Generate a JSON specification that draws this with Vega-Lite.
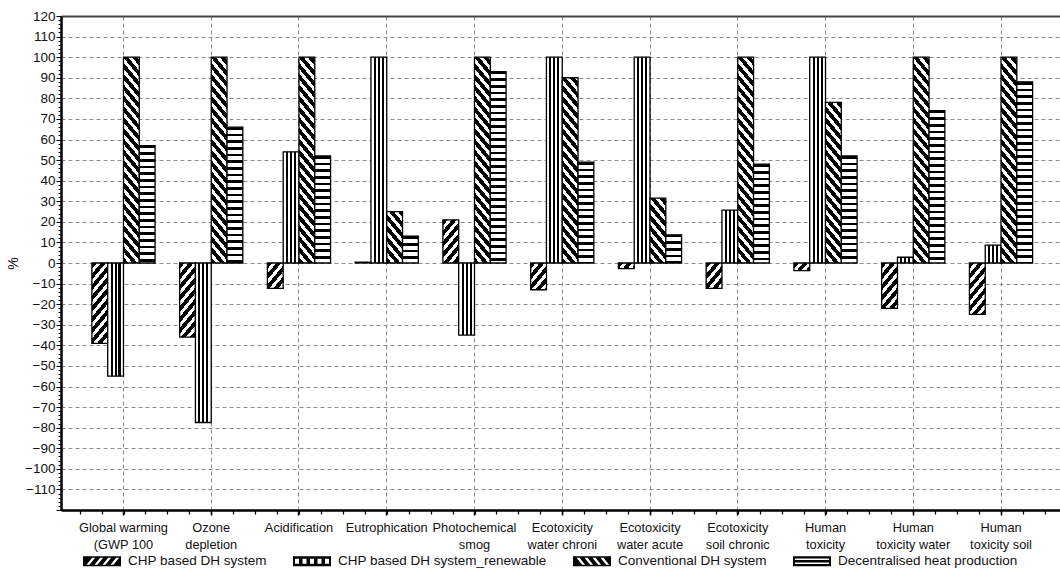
{
  "$schema": "https://vega.github.io/schema/vega-lite/v6.json",
  "width": 999,
  "height": 494,
  "autosize": "none",
  "padding": {"left": 61, "top": 16, "right": 0, "bottom": 66},
  "background": "white",
  "params": [
    {"name": "diag", "value": [
      {"offset":0,"color":"#000"},{"offset":0.025,"color":"#000"},{"offset":0.025,"color":"#fff"},{"offset":0.04545,"color":"#fff"},
      {"offset":0.04545,"color":"#000"},{"offset":0.07045,"color":"#000"},{"offset":0.07045,"color":"#fff"},{"offset":0.09091,"color":"#fff"},
      {"offset":0.09091,"color":"#000"},{"offset":0.11591,"color":"#000"},{"offset":0.11591,"color":"#fff"},{"offset":0.13636,"color":"#fff"},
      {"offset":0.13636,"color":"#000"},{"offset":0.16136,"color":"#000"},{"offset":0.16136,"color":"#fff"},{"offset":0.18182,"color":"#fff"},
      {"offset":0.18182,"color":"#000"},{"offset":0.20682,"color":"#000"},{"offset":0.20682,"color":"#fff"},{"offset":0.22727,"color":"#fff"},
      {"offset":0.22727,"color":"#000"},{"offset":0.25227,"color":"#000"},{"offset":0.25227,"color":"#fff"},{"offset":0.27273,"color":"#fff"},
      {"offset":0.27273,"color":"#000"},{"offset":0.29773,"color":"#000"},{"offset":0.29773,"color":"#fff"},{"offset":0.31818,"color":"#fff"},
      {"offset":0.31818,"color":"#000"},{"offset":0.34318,"color":"#000"},{"offset":0.34318,"color":"#fff"},{"offset":0.36364,"color":"#fff"},
      {"offset":0.36364,"color":"#000"},{"offset":0.38864,"color":"#000"},{"offset":0.38864,"color":"#fff"},{"offset":0.40909,"color":"#fff"},
      {"offset":0.40909,"color":"#000"},{"offset":0.43409,"color":"#000"},{"offset":0.43409,"color":"#fff"},{"offset":0.45455,"color":"#fff"},
      {"offset":0.45455,"color":"#000"},{"offset":0.47955,"color":"#000"},{"offset":0.47955,"color":"#fff"},{"offset":0.5,"color":"#fff"},
      {"offset":0.5,"color":"#000"},{"offset":0.525,"color":"#000"},{"offset":0.525,"color":"#fff"},{"offset":0.54545,"color":"#fff"},
      {"offset":0.54545,"color":"#000"},{"offset":0.57045,"color":"#000"},{"offset":0.57045,"color":"#fff"},{"offset":0.59091,"color":"#fff"},
      {"offset":0.59091,"color":"#000"},{"offset":0.61591,"color":"#000"},{"offset":0.61591,"color":"#fff"},{"offset":0.63636,"color":"#fff"},
      {"offset":0.63636,"color":"#000"},{"offset":0.66136,"color":"#000"},{"offset":0.66136,"color":"#fff"},{"offset":0.68182,"color":"#fff"},
      {"offset":0.68182,"color":"#000"},{"offset":0.70682,"color":"#000"},{"offset":0.70682,"color":"#fff"},{"offset":0.72727,"color":"#fff"},
      {"offset":0.72727,"color":"#000"},{"offset":0.75227,"color":"#000"},{"offset":0.75227,"color":"#fff"},{"offset":0.77273,"color":"#fff"},
      {"offset":0.77273,"color":"#000"},{"offset":0.79773,"color":"#000"},{"offset":0.79773,"color":"#fff"},{"offset":0.81818,"color":"#fff"},
      {"offset":0.81818,"color":"#000"},{"offset":0.84318,"color":"#000"},{"offset":0.84318,"color":"#fff"},{"offset":0.86364,"color":"#fff"},
      {"offset":0.86364,"color":"#000"},{"offset":0.88864,"color":"#000"},{"offset":0.88864,"color":"#fff"},{"offset":0.90909,"color":"#fff"},
      {"offset":0.90909,"color":"#000"},{"offset":0.93409,"color":"#000"},{"offset":0.93409,"color":"#fff"},{"offset":0.95455,"color":"#fff"},
      {"offset":0.95455,"color":"#000"},{"offset":0.97955,"color":"#000"},{"offset":0.97955,"color":"#fff"},{"offset":1,"color":"#fff"}
    ]},
    {"name": "horiz", "value": [
      {"offset":0,"color":"#000"},{"offset":0.01333,"color":"#000"},{"offset":0.01333,"color":"#fff"},{"offset":0.03333,"color":"#fff"},
      {"offset":0.03333,"color":"#000"},{"offset":0.04667,"color":"#000"},{"offset":0.04667,"color":"#fff"},{"offset":0.06667,"color":"#fff"},
      {"offset":0.06667,"color":"#000"},{"offset":0.08,"color":"#000"},{"offset":0.08,"color":"#fff"},{"offset":0.1,"color":"#fff"},
      {"offset":0.1,"color":"#000"},{"offset":0.11333,"color":"#000"},{"offset":0.11333,"color":"#fff"},{"offset":0.13333,"color":"#fff"},
      {"offset":0.13333,"color":"#000"},{"offset":0.14667,"color":"#000"},{"offset":0.14667,"color":"#fff"},{"offset":0.16667,"color":"#fff"},
      {"offset":0.16667,"color":"#000"},{"offset":0.18,"color":"#000"},{"offset":0.18,"color":"#fff"},{"offset":0.2,"color":"#fff"},
      {"offset":0.2,"color":"#000"},{"offset":0.21333,"color":"#000"},{"offset":0.21333,"color":"#fff"},{"offset":0.23333,"color":"#fff"},
      {"offset":0.23333,"color":"#000"},{"offset":0.24667,"color":"#000"},{"offset":0.24667,"color":"#fff"},{"offset":0.26667,"color":"#fff"},
      {"offset":0.26667,"color":"#000"},{"offset":0.28,"color":"#000"},{"offset":0.28,"color":"#fff"},{"offset":0.3,"color":"#fff"},
      {"offset":0.3,"color":"#000"},{"offset":0.31333,"color":"#000"},{"offset":0.31333,"color":"#fff"},{"offset":0.33333,"color":"#fff"},
      {"offset":0.33333,"color":"#000"},{"offset":0.34667,"color":"#000"},{"offset":0.34667,"color":"#fff"},{"offset":0.36667,"color":"#fff"},
      {"offset":0.36667,"color":"#000"},{"offset":0.38,"color":"#000"},{"offset":0.38,"color":"#fff"},{"offset":0.4,"color":"#fff"},
      {"offset":0.4,"color":"#000"},{"offset":0.41333,"color":"#000"},{"offset":0.41333,"color":"#fff"},{"offset":0.43333,"color":"#fff"},
      {"offset":0.43333,"color":"#000"},{"offset":0.44667,"color":"#000"},{"offset":0.44667,"color":"#fff"},{"offset":0.46667,"color":"#fff"},
      {"offset":0.46667,"color":"#000"},{"offset":0.48,"color":"#000"},{"offset":0.48,"color":"#fff"},{"offset":0.5,"color":"#fff"},
      {"offset":0.5,"color":"#000"},{"offset":0.51333,"color":"#000"},{"offset":0.51333,"color":"#fff"},{"offset":0.53333,"color":"#fff"},
      {"offset":0.53333,"color":"#000"},{"offset":0.54667,"color":"#000"},{"offset":0.54667,"color":"#fff"},{"offset":0.56667,"color":"#fff"},
      {"offset":0.56667,"color":"#000"},{"offset":0.58,"color":"#000"},{"offset":0.58,"color":"#fff"},{"offset":0.6,"color":"#fff"},
      {"offset":0.6,"color":"#000"},{"offset":0.61333,"color":"#000"},{"offset":0.61333,"color":"#fff"},{"offset":0.63333,"color":"#fff"},
      {"offset":0.63333,"color":"#000"},{"offset":0.64667,"color":"#000"},{"offset":0.64667,"color":"#fff"},{"offset":0.66667,"color":"#fff"},
      {"offset":0.66667,"color":"#000"},{"offset":0.68,"color":"#000"},{"offset":0.68,"color":"#fff"},{"offset":0.7,"color":"#fff"},
      {"offset":0.7,"color":"#000"},{"offset":0.71333,"color":"#000"},{"offset":0.71333,"color":"#fff"},{"offset":0.73333,"color":"#fff"},
      {"offset":0.73333,"color":"#000"},{"offset":0.74667,"color":"#000"},{"offset":0.74667,"color":"#fff"},{"offset":0.76667,"color":"#fff"},
      {"offset":0.76667,"color":"#000"},{"offset":0.78,"color":"#000"},{"offset":0.78,"color":"#fff"},{"offset":0.8,"color":"#fff"},
      {"offset":0.8,"color":"#000"},{"offset":0.81333,"color":"#000"},{"offset":0.81333,"color":"#fff"},{"offset":0.83333,"color":"#fff"},
      {"offset":0.83333,"color":"#000"},{"offset":0.84667,"color":"#000"},{"offset":0.84667,"color":"#fff"},{"offset":0.86667,"color":"#fff"},
      {"offset":0.86667,"color":"#000"},{"offset":0.88,"color":"#000"},{"offset":0.88,"color":"#fff"},{"offset":0.9,"color":"#fff"},
      {"offset":0.9,"color":"#000"},{"offset":0.91333,"color":"#000"},{"offset":0.91333,"color":"#fff"},{"offset":0.93333,"color":"#fff"},
      {"offset":0.93333,"color":"#000"},{"offset":0.94667,"color":"#000"},{"offset":0.94667,"color":"#fff"},{"offset":0.96667,"color":"#fff"},
      {"offset":0.96667,"color":"#000"},{"offset":0.98,"color":"#000"},{"offset":0.98,"color":"#fff"},{"offset":1,"color":"#fff"}
    ]},
    {"name": "vert", "value": [
      {"offset":0,"color":"#fff"},{"offset":0.185,"color":"#fff"},{"offset":0.185,"color":"#000"},{"offset":0.315,"color":"#000"},
      {"offset":0.315,"color":"#fff"},{"offset":0.435,"color":"#fff"},{"offset":0.435,"color":"#000"},{"offset":0.565,"color":"#000"},
      {"offset":0.565,"color":"#fff"},{"offset":0.685,"color":"#fff"},{"offset":0.685,"color":"#000"},{"offset":0.815,"color":"#000"},
      {"offset":0.815,"color":"#fff"},{"offset":1,"color":"#fff"}
    ]}
  ],
  "data": {"values": [
    {"c":"Global warming (GWP 100","s":"CHP based DH system","v":-39},
    {"c":"Global warming (GWP 100","s":"CHP based DH system_renewable","v":-55},
    {"c":"Global warming (GWP 100","s":"Conventional DH system","v":100},
    {"c":"Global warming (GWP 100","s":"Decentralised heat production","v":57},
    {"c":"Ozone depletion","s":"CHP based DH system","v":-36},
    {"c":"Ozone depletion","s":"CHP based DH system_renewable","v":-77.5},
    {"c":"Ozone depletion","s":"Conventional DH system","v":100},
    {"c":"Ozone depletion","s":"Decentralised heat production","v":66},
    {"c":"Acidification","s":"CHP based DH system","v":-12.3},
    {"c":"Acidification","s":"CHP based DH system_renewable","v":54},
    {"c":"Acidification","s":"Conventional DH system","v":100},
    {"c":"Acidification","s":"Decentralised heat production","v":52},
    {"c":"Eutrophication","s":"CHP based DH system","v":0.4},
    {"c":"Eutrophication","s":"CHP based DH system_renewable","v":100},
    {"c":"Eutrophication","s":"Conventional DH system","v":25},
    {"c":"Eutrophication","s":"Decentralised heat production","v":13},
    {"c":"Photochemical smog","s":"CHP based DH system","v":21},
    {"c":"Photochemical smog","s":"CHP based DH system_renewable","v":-35},
    {"c":"Photochemical smog","s":"Conventional DH system","v":100},
    {"c":"Photochemical smog","s":"Decentralised heat production","v":93},
    {"c":"Ecotoxicity water chroni","s":"CHP based DH system","v":-13},
    {"c":"Ecotoxicity water chroni","s":"CHP based DH system_renewable","v":100},
    {"c":"Ecotoxicity water chroni","s":"Conventional DH system","v":90},
    {"c":"Ecotoxicity water chroni","s":"Decentralised heat production","v":49},
    {"c":"Ecotoxicity water acute","s":"CHP based DH system","v":-2.7},
    {"c":"Ecotoxicity water acute","s":"CHP based DH system_renewable","v":100},
    {"c":"Ecotoxicity water acute","s":"Conventional DH system","v":31.5},
    {"c":"Ecotoxicity water acute","s":"Decentralised heat production","v":13.7},
    {"c":"Ecotoxicity soil chronic","s":"CHP based DH system","v":-12.3},
    {"c":"Ecotoxicity soil chronic","s":"CHP based DH system_renewable","v":25.7},
    {"c":"Ecotoxicity soil chronic","s":"Conventional DH system","v":100},
    {"c":"Ecotoxicity soil chronic","s":"Decentralised heat production","v":48},
    {"c":"Human toxicity","s":"CHP based DH system","v":-3.7},
    {"c":"Human toxicity","s":"CHP based DH system_renewable","v":100},
    {"c":"Human toxicity","s":"Conventional DH system","v":78},
    {"c":"Human toxicity","s":"Decentralised heat production","v":52},
    {"c":"Human toxicity water","s":"CHP based DH system","v":-22},
    {"c":"Human toxicity water","s":"CHP based DH system_renewable","v":2.8},
    {"c":"Human toxicity water","s":"Conventional DH system","v":100},
    {"c":"Human toxicity water","s":"Decentralised heat production","v":74},
    {"c":"Human toxicity soil","s":"CHP based DH system","v":-25},
    {"c":"Human toxicity soil","s":"CHP based DH system_renewable","v":8.7},
    {"c":"Human toxicity soil","s":"Conventional DH system","v":100},
    {"c":"Human toxicity soil","s":"Decentralised heat production","v":88}
  ]},
  "layer": [
    {
      "mark": {"type": "bar", "stroke": "#000", "strokeWidth": 1.3},
      "encoding": {
        "x": {
          "field": "c", "type": "nominal", "sort": null,
          "scale": {"type": "band", "paddingInner": 0.28, "paddingOuter": 0.332, "align": 0.53},
          "axis": {
            "title": null, "labelAngle": 0, "labelFont": "Liberation Sans", "labelFontSize": 12.8, "labelColor": "#111",
            "labelBaseline": "top", "labelLineHeight": 17, "labelPadding": 6, "labelOverlap": false, "labelLimit": 200,
            "labelExpr": "datum.label == 'Global warming (GWP 100' ? ['Global warming', '(GWP 100'] : (indexof(datum.label, ' ') < 0 ? datum.label : [slice(datum.label, 0, indexof(datum.label, ' ')), slice(datum.label, indexof(datum.label, ' ') + 1)])",
            "tickSize": 5, "tickColor": "#000", "tickWidth": 1.5, "bandPosition": 0.5,
            "domainColor": "#000", "domainWidth": 2.5,
            "grid": true, "gridColor": "#8c8c8c", "gridDash": [4, 3], "gridWidth": 1
          }
        },
        "xOffset": {
          "field": "s", "type": "nominal", "sort": null,
          "scale": {"domain": ["CHP based DH system", "CHP based DH system_renewable", "Conventional DH system", "Decentralised heat production"], "paddingInner": 0, "paddingOuter": 0}
        },
        "y": {
          "field": "v", "type": "quantitative",
          "scale": {"domain": [-120, 120], "nice": false},
          "axis": {
            "values": [-120,-118,-116,-114,-112,-110,-108,-106,-104,-102,-100,-98,-96,-94,-92,-90,-88,-86,-84,-82,-80,-78,-76,-74,-72,-70,-68,-66,-64,-62,-60,-58,-56,-54,-52,-50,-48,-46,-44,-42,-40,-38,-36,-34,-32,-30,-28,-26,-24,-22,-20,-18,-16,-14,-12,-10,-8,-6,-4,-2,0,2,4,6,8,10,12,14,16,18,20,22,24,26,28,30,32,34,36,38,40,42,44,46,48,50,52,54,56,58,60,62,64,66,68,70,72,74,76,78,80,82,84,86,88,90,92,94,96,98,100,102,104,106,108,110,112,114,116,118,120],
            "labelExpr": "datum.value % 10 == 0 && datum.value > -120 ? datum.label : ''",
            "labelOverlap": false, "labelFlush": false,
            "labelFont": "Liberation Sans", "labelFontSize": 13.5, "labelColor": "#111", "labelPadding": 1,
            "tickSize": {"condition": {"test": "datum.value % 10 == 0", "value": 5}, "value": 3},
            "tickColor": "#000", "tickWidth": 1,
            "domainColor": "#000", "domainWidth": 2.5,
            "grid": true, "gridColor": "#8c8c8c", "gridDash": [4, 3], "gridWidth": 1,
            "gridOpacity": {"condition": {"test": "datum.value % 10 == 0 && abs(datum.value) < 120", "value": 1}, "value": 0},
            "title": "%", "titleFont": "Liberation Sans", "titleFontSize": 14, "titleFontWeight": "normal", "titleColor": "#111", "titlePadding": 4
          }
        },
        "fill": {"value": {"expr": "datum.s === 'CHP based DH system' ? {gradient: 'linear', x1: 0, y1: 0, x2: (198 / bandwidth('xOffset')) / (1 + pow(max(abs(scale('y', datum.v) - scale('y', 0)), 1) / (1.2 * bandwidth('xOffset')), 2)), y2: (198 / bandwidth('xOffset')) * (max(abs(scale('y', datum.v) - scale('y', 0)), 1) / (1.2 * bandwidth('xOffset'))) / (1 + pow(max(abs(scale('y', datum.v) - scale('y', 0)), 1) / (1.2 * bandwidth('xOffset')), 2)), stops: diag} : datum.s === 'Conventional DH system' ? {gradient: 'linear', x1: 0, y1: 1, x2: (198 / bandwidth('xOffset')) / (1 + pow(max(abs(scale('y', datum.v) - scale('y', 0)), 1) / (1.2 * bandwidth('xOffset')), 2)), y2: 1 - (198 / bandwidth('xOffset')) * (max(abs(scale('y', datum.v) - scale('y', 0)), 1) / (1.2 * bandwidth('xOffset'))) / (1 + pow(max(abs(scale('y', datum.v) - scale('y', 0)), 1) / (1.2 * bandwidth('xOffset')), 2)), stops: diag} : datum.s === 'Decentralised heat production' ? {gradient: 'linear', x1: 0, y1: 0, x2: 0, y2: 200 / max(abs(scale('y', datum.v) - scale('y', 0)), 1), stops: horiz} : {gradient: 'linear', x1: 0, y1: 0, x2: 1, y2: 0, stops: vert}"}}
      }
    },
    {
      "mark": {"type": "point", "opacity": 0, "filled": true, "fill": "#000"},
      "encoding": {
        "x": {
          "field": "c", "type": "nominal", "sort": null,
          "scale": {"type": "band", "paddingInner": 0.28, "paddingOuter": 0.332, "align": 0.53},
          "axis": {"orient": "top", "title": null, "labels": false, "ticks": false, "grid": false, "domainColor": "#444", "domainWidth": 2}
        },
        "shape": {
          "field": "s", "type": "nominal",
          "scale": {
            "domain": ["CHP based DH system", "CHP based DH system_renewable", "Conventional DH system", "Decentralised heat production"],
            "range": [
              "M-1,-0.2632L1,-0.2632L1,0.2632L-1,0.2632Z M-0.8158,0.1842L-0.6579,0.1842L-0.3632,-0.1842L-0.5211,-0.1842Z M-0.3947,0.1842L-0.2368,0.1842L0.0579,-0.1842L-0.1,-0.1842Z M0.0263,0.1842L0.1842,0.1842L0.4789,-0.1842L0.3211,-0.1842Z M0.4474,0.1842L0.6053,0.1842L0.9,-0.1842L0.7421,-0.1842Z",
              "M-1,-0.2632L1,-0.2632L1,0.2632L-1,0.2632Z M-0.8947,-0.1316L-0.8947,0.1316L-0.6842,0.1316L-0.6842,-0.1316Z M-0.5,-0.1316L-0.5,0.1316L-0.2895,0.1316L-0.2895,-0.1316Z M-0.1053,-0.1316L-0.1053,0.1316L0.1053,0.1316L0.1053,-0.1316Z M0.2895,-0.1316L0.2895,0.1316L0.5,0.1316L0.5,-0.1316Z M0.6842,-0.1316L0.6842,0.1316L0.8947,0.1316L0.8947,-0.1316Z",
              "M-1,-0.2632L1,-0.2632L1,0.2632L-1,0.2632Z M-0.8158,-0.1842L-0.5211,0.1842L-0.3632,0.1842L-0.6579,-0.1842Z M-0.3947,-0.1842L-0.1,0.1842L0.0579,0.1842L-0.2368,-0.1842Z M0.0263,-0.1842L0.3211,0.1842L0.4789,0.1842L0.1842,-0.1842Z M0.4474,-0.1842L0.7421,0.1842L0.9,0.1842L0.6053,-0.1842Z",
              "M-1,-0.2632L1,-0.2632L1,0.2632L-1,0.2632Z M-0.8947,-0.1474L-0.8947,-0.0632L0.8947,-0.0632L0.8947,-0.1474Z M-0.8947,0.0632L-0.8947,0.1474L0.8947,0.1474L0.8947,0.0632Z"
            ]
          },
          "legend": {
            "title": null, "orient": "none", "legendX": 22, "legendY": 526, "direction": "horizontal",
            "symbolSize": 1444, "symbolFillColor": "#000", "symbolStrokeColor": "#000", "symbolStrokeWidth": 0, "symbolOpacity": 1,
            "labelFont": "Liberation Sans", "labelFontSize": 13.5, "labelColor": "#111", "labelOffset": 7,
            "columnPadding": 26, "labelLimit": 400, "padding": 0
          }
        }
      }
    },
    {
      "mark": {"type": "point", "opacity": 0},
      "encoding": {
        "x": {
          "datum": 0, "type": "quantitative",
          "scale": {"domain": [0, 999], "nice": false, "zero": false},
          "axis": {
            "orient": "bottom", "title": null, "labels": false, "domain": false, "grid": false,
            "tickSize": 4, "tickColor": "#000", "tickWidth": 1.2,
            "values": [18.62,40.56,62.5,84.44,106.37,128.31,150.25,172.19,194.12,216.06,238,259.94,281.87,303.81,325.75,347.69,369.62,391.56,413.5,435.44,457.37,479.31,501.25,523.19,545.12,567.06,589,610.94,632.87,654.81,676.75,698.69,720.62,742.56,764.5,786.44,808.37,830.31,852.25,874.19,896.12,918.06,940,961.94,983.87]
          }
        }
      }
    }
  ],
  "resolve": {"scale": {"x": "independent"}, "axis": {"x": "independent"}},
  "config": {"view": {"stroke": null}, "font": "Liberation Sans"}
}
